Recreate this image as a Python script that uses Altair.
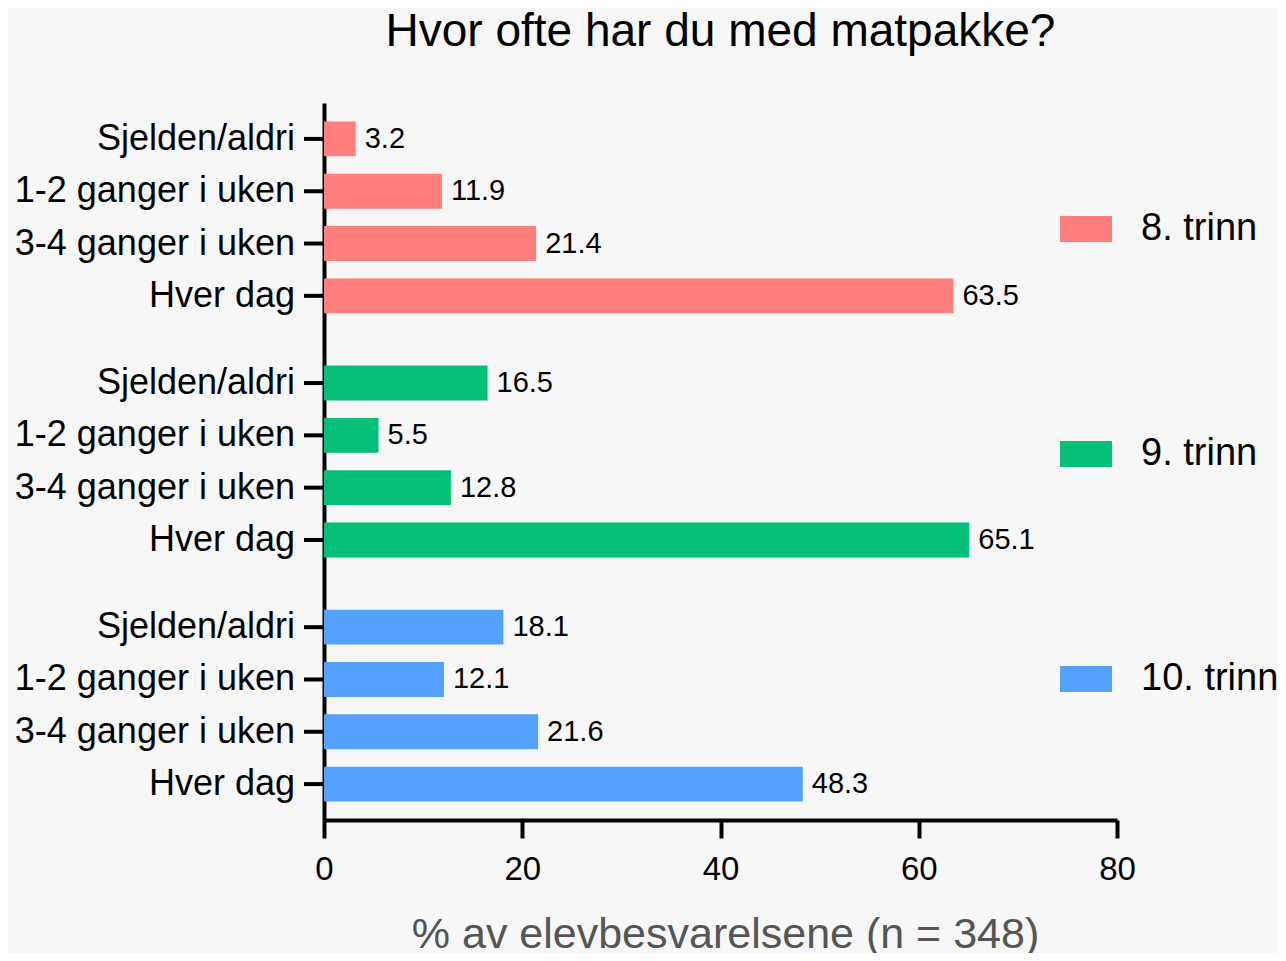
import altair as alt
import pandas as pd

grades = ["8. trinn", "9. trinn", "10. trinn"]
answers = ["Sjelden/aldri", "1-2 ganger i uken", "3-4 ganger i uken", "Hver dag"]
values_8 = [3.2, 11.9, 21.4, 63.5]
values_9 = [16.5, 5.5, 12.8, 65.1]
values_10 = [18.1, 12.1, 21.6, 48.3]
colors = ["#FF7F7F", "#04BF77", "#56A0FF"]
x_ticks = [0, 20, 40, 60, 80]

rows = []
for g, vals in zip(grades, [values_8, values_9, values_10]):
    for a, v in zip(answers, vals):
        rows.append({"trinn": g, "svar": a, "pct": v})
df = pd.DataFrame(rows)

FONT = "Liberation Sans"

y_enc = alt.Y(
    "trinn:N",
    sort=grades,
    scale=alt.Scale(paddingInner=0.1429, paddingOuter=0.04),
    axis=alt.Axis(labels=False, ticks=False, title=None, domain=True,
                  domainColor="black", domainWidth=4, grid=False),
)
yoff_enc = alt.YOffset(
    "svar:N",
    sort=answers,
    scale=alt.Scale(paddingInner=0.3333, paddingOuter=0.1667),
)
x_enc = alt.X(
    "pct:Q",
    scale=alt.Scale(domain=[0, 80], nice=False),
    axis=alt.Axis(
        values=x_ticks, title="% av elevbesvarelsene (n = 348)", grid=False,
        domainColor="black", domainWidth=4, tickColor="black", tickWidth=4,
        tickSize=18, labelFontSize=33, labelColor="black", labelFont=FONT,
        labelPadding=15, titleFontSize=43, titleColor="#555555", titleFont=FONT,
        titleFontWeight="normal", titleX=401, titleY=127, titleAlign="center",
        titleBaseline="alphabetic", labelFlush=False,
    ),
)

base = alt.Chart(df)

bars = base.mark_bar().encode(
    x=x_enc,
    y=y_enc,
    yOffset=yoff_enc,
    color=alt.Color(
        "trinn:N",
        sort=grades,
        scale=alt.Scale(domain=grades, range=colors),
        legend=alt.Legend(
            title=None, orient="none", legendX=736, legendY=100,
            symbolType="M-1,-0.5L1,-0.5L1,0.5L-1,0.5Z", symbolSize=2704,
            symbolStrokeWidth=0, labelFontSize=38, labelFont=FONT,
            labelColor="black", labelOffset=29, rowPadding=180, padding=0,
        ),
    ),
)

value_labels = base.mark_text(
    align="left", baseline="middle", dx=9, fontSize=29, font=FONT, color="black"
).encode(
    x="pct:Q",
    y=alt.Y("trinn:N", sort=grades),
    yOffset=alt.YOffset("svar:N", sort=answers),
    text=alt.Text("pct:Q", format=".1f"),
)

cat_labels = base.mark_text(
    align="right", baseline="middle", fontSize=36, font=FONT, color="black"
).encode(
    x=alt.value(-29),
    y=alt.Y("trinn:N", sort=grades),
    yOffset=alt.YOffset("svar:N", sort=answers),
    text="svar:N",
)

cat_ticks = base.mark_rule(color="black", strokeWidth=4).encode(
    x=alt.value(-20),
    x2=alt.value(0),
    y=alt.Y("trinn:N", sort=grades),
    yOffset=alt.YOffset("svar:N", sort=answers),
)

chart = alt.layer(bars, value_labels, cat_ticks, cat_labels).properties(
    width=793,
    height=717,
    background="#f7f7f7",
    title=alt.TitleParams(
        "Hvor ofte har du med matpakke?", fontSize=46, font=FONT,
        fontWeight="normal", color="black", anchor="middle", frame="group",
        baseline="alphabetic", offset=11,
    ),
    autosize=alt.AutoSizeParams(type="none"),
    padding={"left": 316, "top": 95, "right": 160, "bottom": 133},
).configure_view(stroke=None, strokeWidth=0)

chart.save("out.html", embed_options={"renderer": "svg", "actions": False})
